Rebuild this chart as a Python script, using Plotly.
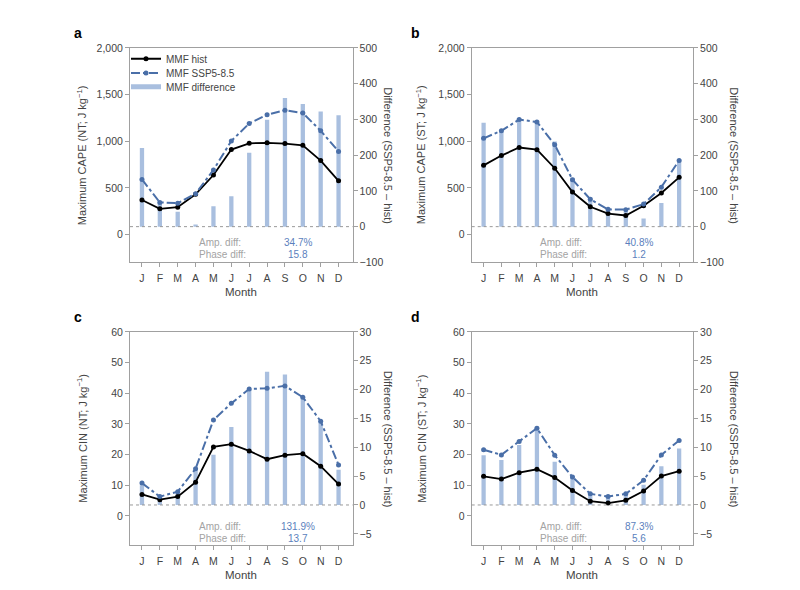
import plotly.graph_objects as go

months = ["J", "F", "M", "A", "M", "J", "J", "A", "S", "O", "N", "D"]

# a: CAPE, northern tropics
cape_nt_hist = [370, 275, 292, 430, 637, 910, 977, 982, 975, 956, 792, 575]
cape_nt_ssp = [590, 343, 335, 436, 692, 1003, 1190, 1283, 1332, 1302, 1112, 890]
cape_nt_diff = [220, 70, 42, 6, 57, 85, 207, 299, 360, 343, 322, 312]

# b: CAPE, southern tropics
cape_st_hist = [741, 846, 932, 909, 710, 455, 297, 224, 203, 308, 444, 612]
cape_st_ssp = [1031, 1112, 1232, 1206, 962, 587, 378, 269, 266, 325, 507, 794]
cape_st_diff = [291, 270, 302, 297, 238, 137, 82, 50, 41, 23, 66, 187]

# c: CIN, northern tropics
cin_nt_hist = [7.0, 5.3, 6.3, 11.0, 22.5, 23.4, 21.2, 18.5, 19.8, 20.3, 16.2, 10.4]
cin_nt_ssp = [10.7, 6.3, 7.9, 15.4, 31.3, 36.7, 41.4, 41.6, 42.4, 38.7, 30.9, 16.6]
cin_nt_diff = [3.4, 1.3, 2.1, 6.0, 8.7, 13.5, 20.1, 23.1, 22.6, 18.7, 14.5, 6.1]

# d: CIN, southern tropics
cin_st_hist = [12.9, 12.0, 14.1, 15.2, 12.5, 8.3, 4.8, 4.2, 5.1, 8.1, 13.0, 14.6]
cin_st_ssp = [21.6, 19.9, 24.3, 28.6, 19.8, 12.7, 7.2, 6.3, 7.2, 11.6, 19.9, 24.6]
cin_st_diff = [8.6, 7.8, 10.4, 13.6, 7.5, 4.9, 1.9, 1.6, 1.7, 3.5, 6.7, 9.8]

amp_diff = ["34.7%", "40.8%", "131.9%", "87.3%"]
phase_diff = ["15.8", "1.2", "13.7", "5.6"]
panel_labels = ["a", "b", "c", "d"]
left_titles = ["Maximum CAPE (NT; J kg<sup>−1</sup>)", "Maximum CAPE (ST; J kg<sup>−1</sup>)",
               "Maximum CIN (NT; J kg<sup>−1</sup>)", "Maximum CIN (ST; J kg<sup>−1</sup>)"]
right_title = "Difference (SSP5-8.5 – hist)"

panels = [
    (cape_nt_hist, cape_nt_ssp, cape_nt_diff),
    (cape_st_hist, cape_st_ssp, cape_st_diff),
    (cin_nt_hist, cin_nt_ssp, cin_nt_diff),
    (cin_st_hist, cin_st_ssp, cin_st_diff),
]

FONT = "Liberation Sans, Arial, sans-serif"
BLUE = "#4a6fa8"
BAR = "#a9bfdf"
AXC = "#a0a0a0"
TXT = "#444444"

# figure sits inside the page body (8px margin), so work in page pixels
W, H, OFF = 784, 574, 8


def fx(px):
    return (px - OFF) / W


def fy(py):
    return 1 - (py - OFF) / H


xpx = [(130, 352.5), (471.7, 693)]     # left/right axis lines per column
ypx = [(42.7, 261.7), (332.7, 550.7)]  # top/bottom of plot per row
label_x = [78, 415]
ltitle_x = [82, 421]
rtitle_x = [388, 734]

left_ranges = [[-300, 2000], [-300, 2000], [-9.6, 60], [-9.6, 60]]
left_dticks = [500, 500, 10, 10]
right_ranges = [[-100, 500], [-100, 500], [-7, 30], [-7, 30]]
right_dticks = [100, 100, 5, 5]

x = list(range(12))
fig = go.Figure()
layout = {}
annotations = []
shapes = []


def note(text, px, py, size, color, angle=0, xanchor="center"):
    return dict(text=text, xref="paper", yref="paper", x=fx(px), y=fy(py),
                xanchor=xanchor, yanchor="middle", textangle=angle, showarrow=False,
                font=dict(size=size, color=color, family=FONT))


for i, (hist, ssp, diff) in enumerate(panels):
    col, row = i % 2, i // 2
    n = i + 1
    xa = "x" if n == 1 else f"x{n}"
    yb = f"y{2 * i + 1}" if i > 0 else "y"   # right axis (bars), base
    yl = f"y{2 * i + 2}"                      # left axis (lines), overlay

    fig.add_trace(go.Bar(x=x, y=diff, xaxis=xa, yaxis=yb, width=0.24,
                         marker=dict(color=BAR, line_width=0), showlegend=False))
    fig.add_trace(go.Scatter(x=x, y=hist, xaxis=xa, yaxis=yl, mode="lines+markers",
                             line=dict(color="black", width=1.8),
                             marker=dict(size=5, color="black"),
                             name="MMF hist", showlegend=(i == 0), legend="legend"))
    fig.add_trace(go.Scatter(x=x, y=ssp, xaxis=xa, yaxis=yl, mode="lines+markers",
                             line=dict(color=BLUE, width=2, dash="dashdot"),
                             marker=dict(size=5, color=BLUE),
                             name="MMF SSP5-8.5", showlegend=(i == 0), legend="legend2"))

    xl, xr = xpx[col]
    yt, ybm = ypx[row]
    xdom = [fx(xl), fx(xr)]
    ydom = [fy(ybm), fy(yt)]

    xkey = "xaxis" if n == 1 else f"xaxis{n}"
    ybkey = "yaxis" if i == 0 else f"yaxis{2 * i + 1}"
    ylkey = f"yaxis{2 * i + 2}"
    layout[xkey] = dict(domain=xdom, anchor=yb, range=[-0.67, 11.78],
                        tickmode="array", tickvals=x, ticktext=months,
                        ticks="outside", ticklen=4, tickcolor=AXC,
                        showline=True, linecolor=AXC, mirror=True,
                        showgrid=False, zeroline=False, ticklabelstandoff=2,
                        tickfont=dict(size=10.5, color=TXT, family=FONT))
    layout[ybkey] = dict(domain=ydom, anchor=xa, side="right",
                         range=right_ranges[i], dtick=right_dticks[i], tick0=0,
                         ticks="outside", ticklen=4, tickcolor=AXC,
                         showline=True, linecolor=AXC, showgrid=False, zeroline=False,
                         tickfont=dict(size=10.5, color=TXT, family=FONT))
    layout[ylkey] = dict(overlaying=yb, anchor=xa, side="left",
                         range=left_ranges[i], dtick=left_dticks[i], tick0=0,
                         tickformat=",", ticks="outside", ticklen=4, tickcolor=AXC,
                         showline=True, linecolor=AXC, showgrid=False, zeroline=False,
                         tickfont=dict(size=10.5, color=TXT, family=FONT))

    shapes.append(dict(type="line", xref=f"{xa} domain", yref=yb, x0=0, x1=1, y0=0, y1=0,
                       line=dict(color="#999999", width=1, dash="dot")))

    annotations.append(note(f"<b>{panel_labels[i]}</b>", label_x[col], yt - 15, 14, "black"))
    annotations.append(note(left_titles[i], ltitle_x[col], (yt + ybm) / 2, 11, TXT, angle=-90))
    annotations.append(note(right_title, rtitle_x[col], (yt + ybm) / 2, 11, TXT, angle=90))
    annotations.append(note("Month", (xl + xr) / 2, ybm + 30.5, 11.5, TXT))
    w = xr - xl
    for k, (lab, val) in enumerate([("Amp. diff:", amp_diff[i]), ("Phase diff:", phase_diff[i])]):
        yy = yt + 199 + 11.6 * k
        annotations.append(note(lab, xl + 0.30 * w, yy, 10, "#a3a3a3", xanchor="left"))
        annotations.append(note(val, xl + 0.757 * w, yy, 10, "#5b7fbd"))

# legend-only entry for the difference bars
fig.add_trace(go.Scatter(x=[None], y=[None], xaxis="x", yaxis="y2", mode="lines",
                         line=dict(color=BAR, width=5), name="MMF difference",
                         legend="legend3"))

fig.update_layout(**layout)
leg = dict(xanchor="left", yanchor="middle", bgcolor="rgba(0,0,0,0)", borderwidth=0,
           font=dict(size=10, color=TXT, family=FONT), itemwidth=30)
fig.update_layout(
    width=W, height=H, margin=dict(l=0, r=0, t=0, b=0),
    paper_bgcolor="white", plot_bgcolor="white",
    font=dict(family=FONT, color=TXT, size=11),
    annotations=annotations, shapes=shapes,
    legend=dict(leg, x=fx(126), y=fy(53.7)),
    legend2=dict(leg, x=fx(126), y=fy(68.3)),
    legend3=dict(leg, x=fx(126), y=fy(82.3)),
    barmode="overlay",
)

fig.write_html("out.html")
